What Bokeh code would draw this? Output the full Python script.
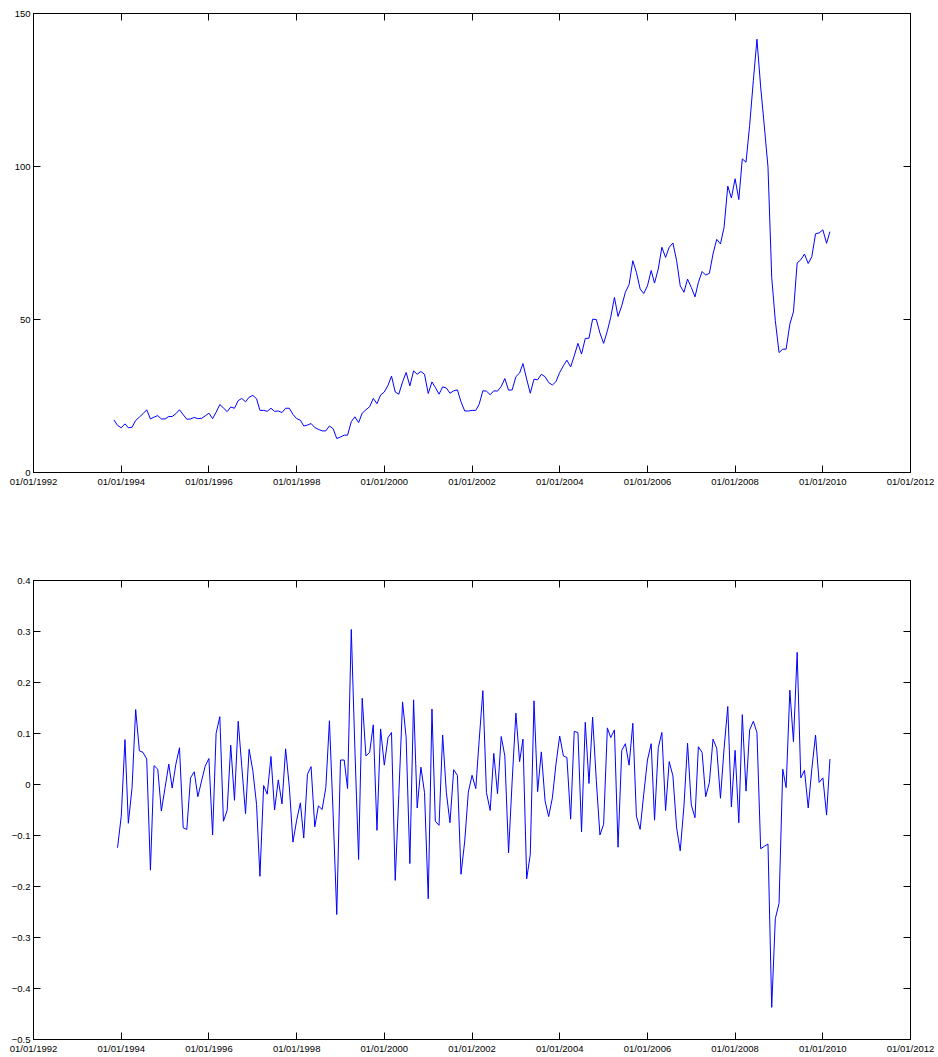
import pandas as pd
from datetime import datetime
from bokeh.plotting import figure
from bokeh.layouts import column
from bokeh.models import (Range1d, FixedTicker, DatetimeTickFormatter, DatetimeAxis,
                          LinearAxis, CustomJSTickFormatter, ColumnDataSource)
from bokeh.embed import file_html
from bokeh.resources import INLINE

# ---------------- data ----------------
start_month = "1993-11-01"

prices = [
    17.2, 15.4, 14.6, 15.9, 14.6, 14.8, 17.0, 18.1, 19.2, 20.5,
    17.5, 18.1, 18.6, 17.5, 17.5, 18.3, 18.3, 19.2, 20.5, 18.9,
    17.4, 17.5, 18.0, 17.6, 17.7, 18.5, 19.4, 17.6, 19.7, 22.2,
    21.1, 19.9, 21.4, 21.0, 23.5, 24.2, 23.1, 24.6, 25.2, 24.1,
    20.3, 20.3, 20.0, 21.0, 20.0, 20.1, 19.6, 21.0, 21.0, 19.0,
    17.6, 17.1, 15.2, 15.5, 16.0, 14.7, 14.1, 13.6, 13.6, 15.2,
    14.3, 11.1, 11.6, 12.2, 12.2, 16.6, 18.2, 16.3, 19.4, 20.5,
    21.5, 24.2, 22.5, 25.3, 26.3, 28.5, 31.5, 26.3, 25.6, 29.6,
    32.7, 28.3, 33.2, 32.1, 33.0, 32.1, 25.8, 29.6, 27.8, 25.6,
    28.0, 27.6, 25.9, 26.7, 27.0, 23.1, 20.1, 20.1, 20.3, 20.3,
    22.3, 26.7, 26.6, 25.4, 26.7, 26.6, 28.1, 30.7, 26.9, 27.0,
    31.3, 32.5, 35.6, 30.5, 25.9, 30.5, 30.3, 32.1, 31.3, 29.4,
    28.6, 29.7, 32.7, 34.9, 36.7, 34.5, 38.1, 42.2, 38.7, 43.8,
    43.9, 50.1, 50.0, 45.6, 42.2, 46.3, 50.7, 57.2, 51.0, 54.5,
    58.9, 61.4, 69.2, 65.4, 60.0, 58.5, 61.0, 66.0, 61.9, 66.5,
    73.6, 70.3, 73.6, 75.0, 69.2, 61.0, 58.9, 63.2, 60.5, 57.4,
    62.1, 65.7, 64.5, 65.1, 71.4, 76.2, 74.7, 80.1, 93.6, 89.7,
    96.0, 89.2, 102.5, 101.4, 113.4, 128.1, 141.6, 126.0, 112.9, 99.8,
    63.8, 49.6, 39.2, 40.3, 40.3, 48.5, 52.5, 68.5, 69.5, 71.4,
    68.3, 70.5, 78.0, 78.3, 79.3, 74.9, 78.7,
]

returns = [
    -0.124, -0.062, 0.088, -0.076, -0.006, 0.147, 0.066, 0.063, 0.050, -0.168,
    0.037, 0.030, -0.052, -0.006, 0.040, -0.007, 0.040, 0.072, -0.085, -0.088,
    0.013, 0.025, -0.024, 0.007, 0.036, 0.051, -0.099, 0.100, 0.133, -0.072,
    -0.051, 0.077, -0.031, 0.124, 0.035, -0.057, 0.069, 0.027, -0.039, -0.180,
    -0.002, -0.019, 0.055, -0.050, 0.009, -0.038, 0.070, -0.005, -0.113, -0.070,
    -0.036, -0.105, 0.020, 0.035, -0.083, -0.042, -0.049, -0.006, 0.125, -0.060,
    -0.255, 0.048, 0.048, -0.008, 0.304, 0.070, -0.147, 0.169, 0.056, 0.063,
    0.117, -0.090, 0.109, 0.038, 0.092, 0.102, -0.188, -0.020, 0.162, 0.092,
    -0.155, 0.166, -0.046, 0.034, -0.016, -0.224, 0.148, -0.072, -0.080, 0.097,
    -0.016, -0.075, 0.029, 0.018, -0.176, -0.111, -0.015, 0.018, -0.008, 0.086,
    0.184, -0.016, -0.051, 0.061, -0.018, 0.094, 0.056, -0.134, 0.007, 0.140,
    0.045, 0.089, -0.185, -0.137, 0.164, -0.014, 0.064, -0.032, -0.063, -0.026,
    0.040, 0.095, 0.056, 0.053, -0.068, 0.104, 0.102, -0.093, 0.122, 0.002,
    0.132, 0.008, -0.099, -0.078, 0.111, 0.092, 0.107, -0.123, 0.067, 0.080,
    0.038, 0.120, -0.062, -0.088, -0.019, 0.048, 0.080, -0.070, 0.072, 0.102,
    -0.051, 0.045, 0.017, -0.085, -0.130, -0.042, 0.081, -0.040, -0.065, 0.074,
    0.063, -0.024, 0.004, 0.089, 0.071, -0.027, 0.070, 0.153, -0.044, 0.067,
    -0.075, 0.137, -0.013, 0.107, 0.124, 0.102, -0.126, -0.121, -0.117, -0.437,
    -0.263, -0.233, 0.030, -0.006, 0.185, 0.084, 0.259, 0.013, 0.028, -0.046,
    0.030, 0.097, 0.004, 0.013, -0.060, 0.050,
]

x_tick_years = [1992, 1994, 1996, 1998, 2000, 2002, 2004, 2006, 2008, 2010, 2012]
top_yticks = [0, 50, 100, 150]
bottom_yticks = [-0.5, -0.4, -0.3, -0.2, -0.1, 0, 0.1, 0.2, 0.3, 0.4]

# ---------------- positions ----------------
price_dates = pd.date_range(start_month, periods=len(prices), freq="MS")
return_dates = price_dates[1:1 + len(returns)]


def to_ms(ts):
    return pd.Timestamp(ts).value / 1e6


xticks = [to_ms(f"{y}-01-01") for y in x_tick_years]

FONT = "Liberation Sans"
FSIZE = "9.5px"
DATEFMT = "%m/%d/%Y"


def date_formatter():
    return DatetimeTickFormatter(
        microseconds=DATEFMT, milliseconds=DATEFMT, seconds=DATEFMT, minsec=DATEFMT,
        minutes=DATEFMT, hourmin=DATEFMT, hours=DATEFMT, days=DATEFMT,
        months=DATEFMT, years=DATEFMT)


def style_axis(ax, labels=True):
    ax.major_tick_in = 7
    ax.major_tick_out = 0
    ax.minor_tick_in = 0
    ax.minor_tick_out = 0
    ax.axis_line_color = "black"
    ax.major_tick_line_color = "black"
    if labels:
        ax.major_label_text_font = FONT
        ax.major_label_text_font_size = FSIZE
        ax.major_label_text_color = "black"
        ax.major_label_standoff = 3
    else:
        ax.major_label_text_font_size = "0px"
        ax.major_label_standoff = 0


def make_fig(ymin, ymax, yticks, yformatter, frame_h, top_b, bottom_b):
    p = figure(frame_width=877, frame_height=frame_h,
               x_axis_type="datetime",
               x_range=Range1d(datetime(1992, 1, 1), datetime(2012, 1, 1)),
               y_range=Range1d(ymin, ymax),
               output_backend="svg", toolbar_location=None,
               min_border_left=33, min_border_right=26,
               min_border_top=top_b, min_border_bottom=bottom_b)
    p.grid.visible = False
    p.outline_line_color = "black"
    p.background_fill_color = "white"
    p.border_fill_color = "white"

    p.xaxis.ticker = FixedTicker(ticks=xticks)
    p.xaxis.formatter = date_formatter()
    p.yaxis.ticker = FixedTicker(ticks=yticks)
    if yformatter is not None:
        p.yaxis.formatter = yformatter
    for ax in p.xaxis + p.yaxis:
        style_axis(ax)

    top_ax = DatetimeAxis(ticker=FixedTicker(ticks=xticks),
                          formatter=CustomJSTickFormatter(code="return '';"))
    style_axis(top_ax, labels=False)
    p.add_layout(top_ax, "above")
    right_ax = LinearAxis(ticker=FixedTicker(ticks=yticks),
                          formatter=CustomJSTickFormatter(code="return '';"))
    style_axis(right_ax, labels=False)
    p.add_layout(right_ax, "right")
    return p


p1 = make_fig(0, 150, top_yticks, None, 459, 13, 56)
src1 = ColumnDataSource(dict(x=list(price_dates), y=prices))
p1.line("x", "y", source=src1, line_color="#0000ff", line_width=1)

ret_fmt = CustomJSTickFormatter(
    code="if (Math.abs(tick) < 1e-9) { return '0'; } return tick.toFixed(1).replace('-', '\\u2212');")
p2 = make_fig(-0.5, 0.4, bottom_yticks, ret_fmt, 459, 52, 14)
src2 = ColumnDataSource(dict(x=list(return_dates), y=returns))
p2.line("x", "y", source=src2, line_color="#0000ff", line_width=1)

layout = column(p1, p2)
open("out.html", "w").write(file_html(layout, INLINE))
